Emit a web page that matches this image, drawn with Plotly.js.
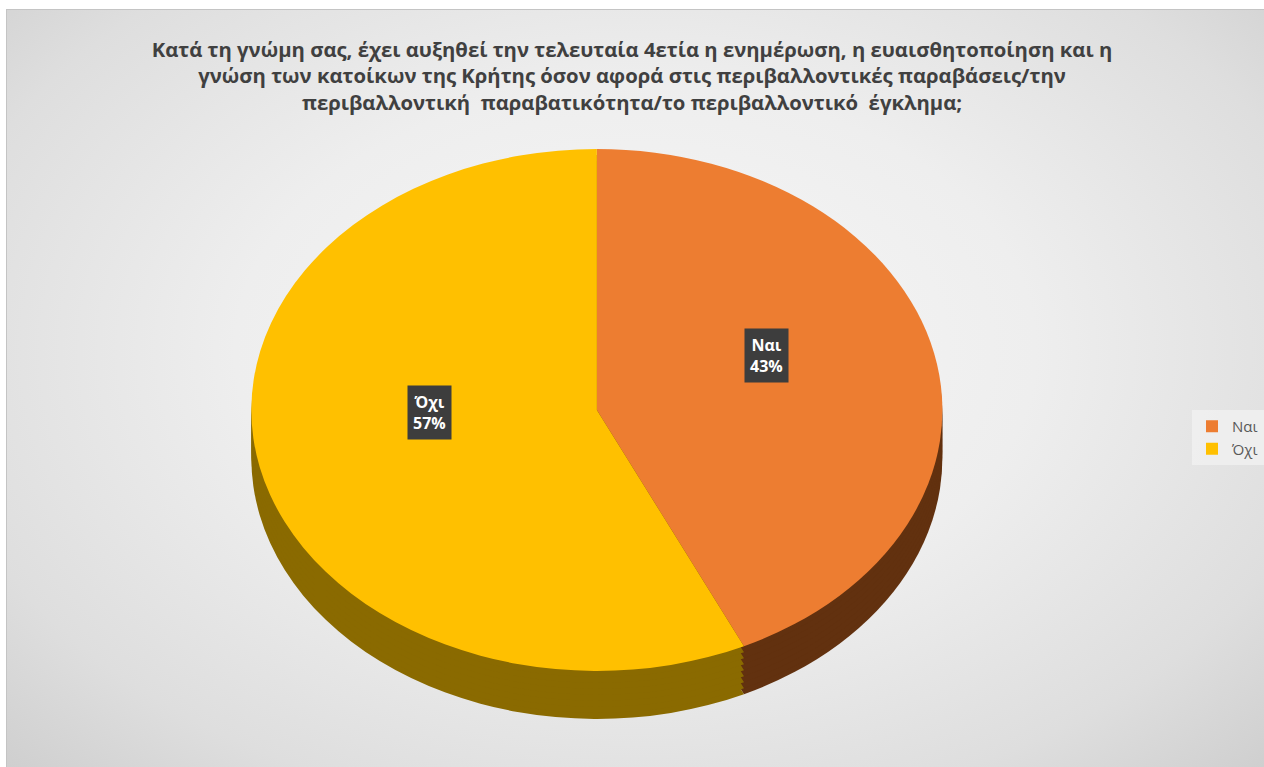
<!DOCTYPE html>
<html>
<head>
<meta charset="utf-8">
<script src="https://cdn.plot.ly/plotly-3.0.1.min.js"></script>
<style>
  html, body { margin: 0; padding: 0; background: #ffffff; width: 1264px; height: 767px; overflow: hidden; }
  #bg { position: absolute; left: 6px; top: 9px; width: 1258px; height: 758px;
        background: radial-gradient(ellipse at 50% 45%, #f7f7f7 0%, #eeeeee 45%, #dedede 80%, #cfcfcf 100%);
        border-top: 1px solid #c4c4c4; border-left: 1px solid #c4c4c4; box-sizing: border-box; }
  #chart { position: absolute; left: 0; top: 0; width: 1264px; height: 767px; }
</style>
</head>
<body>
<div id="bg"></div>
<div id="chart"></div>
<script>
// ---- data ----
const labels = ['Ναι', 'Όχι'];
const values = [43, 57];
const topColors = ['#ED7D31', '#FFC000'];
const sideColors = ['#62310f', '#8a6a00'];
const chartTitle = 'Κατά τη γνώμη σας, έχει αυξηθεί την τελευταία 4ετία η ενημέρωση, η ευαισθητοποίηση και η<br>' +
                   'γνώση των κατοίκων της Κρήτης όσον αφορά στις περιβαλλοντικές παραβάσεις/την<br>' +
                   'περιβαλλοντική  παραβατικότητα/το περιβαλλοντικό  έγκλημα;';

// ---- geometry (pixels) ----
const W = 1264, H = 767;
const CX = 600, CY = 410, R = 262, XSCALE = 1.324, DEPTH = 48;

function domainFor(cy) {
  return {
    x: [(CX - R) / W, (CX + R) / W],
    y: [(H - cy - R) / H, (H - cy + R) / H]
  };
}

const traces = [];
// side (extrusion) layers
for (let d = DEPTH; d > 0; d -= 6) {
  traces.push({
    type: 'pie', labels: labels, values: values,
    sort: false, direction: 'clockwise', rotation: 0,
    marker: { colors: sideColors, line: { width: 0 } },
    textinfo: 'none', hoverinfo: 'skip', showlegend: false,
    domain: domainFor(CY + d)
  });
}
// top face
traces.push({
  type: 'pie', labels: labels, values: values,
  sort: false, direction: 'clockwise', rotation: 0,
  marker: { colors: topColors, line: { width: 0 } },
  textinfo: 'none', hoverinfo: 'label+percent',
  domain: domainFor(CY)
});

// data label boxes placed at each slice's mid-angle
const total = values.reduce((a, b) => a + b, 0);
const annotations = [];
let cum = 0;
values.forEach((v, i) => {
  const mid = (cum + v / 2) / total * 2 * Math.PI;
  cum += v;
  const px = CX + Math.sin(mid) * R * 0.5 * XSCALE;
  const py = CY - Math.cos(mid) * R * 0.5;
  const pct = Math.round(v / total * 100);
  annotations.push({
    xref: 'paper', yref: 'paper', x: px / W, y: (H - py) / H,
    yshift: 26,
    text: '<b>' + labels[i] + '</b><br><b>' + pct + '%</b>',
    showarrow: false,
    font: { family: 'Open Sans, sans-serif', size: 16, color: '#ffffff' },
    bgcolor: '#3d3d3d', borderpad: 5, align: 'center'
  });
});

const layout = {
  width: W, height: H,
  margin: { l: 0, r: 0, t: 0, b: 0 },
  paper_bgcolor: 'rgba(0,0,0,0)',
  plot_bgcolor: 'rgba(0,0,0,0)',
  title: {
    text: '<b>' + chartTitle + '</b>',
    font: { family: 'Open Sans, sans-serif', size: 20.3, color: '#404040' },
    x: 0.5, xanchor: 'center', y: 1 - 57 / H, yanchor: 'top'
  },
  showlegend: true,
  legend: {
    x: 1197 / W, xanchor: 'left', y: (H - 410) / H, yanchor: 'top',
    bgcolor: 'rgba(242,242,242,0.75)',
    font: { family: 'Open Sans, sans-serif', size: 15, color: '#595959' },
    itemwidth: 30, tracegroupgap: 0
  },
  annotations: annotations
};

Plotly.newPlot('chart', traces, layout, { displayModeBar: false, staticPlot: true }).then(() => {
  document.querySelectorAll('#chart .pielayer .trace').forEach(g => {
    g.setAttribute('transform', 'translate(' + CX + ',0) scale(' + XSCALE + ',1) translate(' + (-CX) + ',0)');
  });
});
</script>
</body>
</html>
